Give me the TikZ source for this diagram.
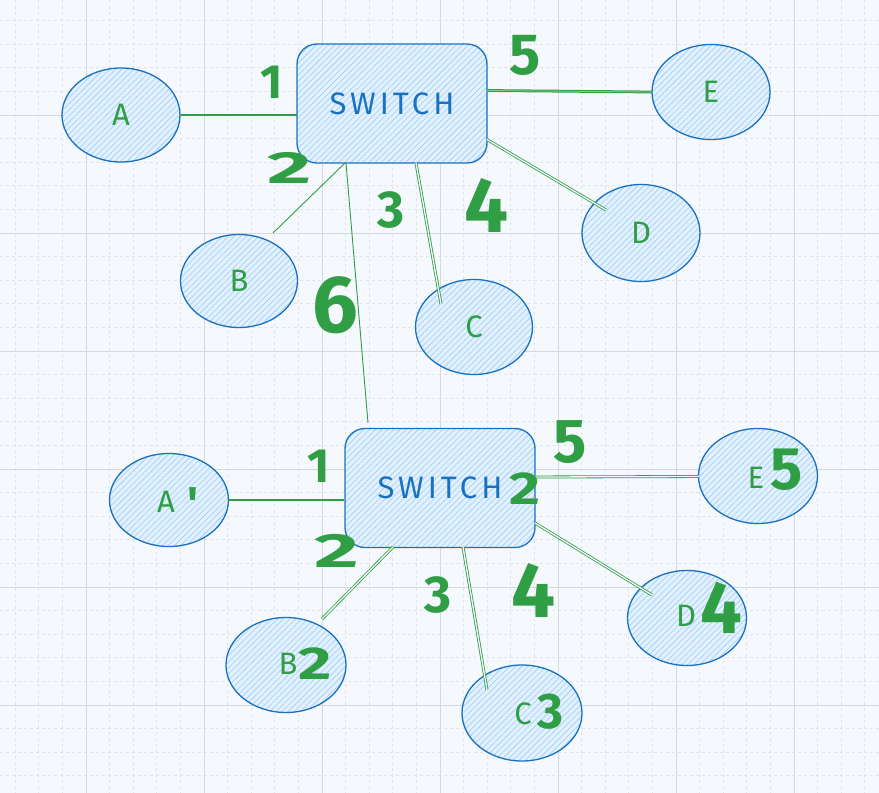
\documentclass[tikz,border=0pt]{standalone}
\usepackage{fontspec}
\usepackage{graphicx}
\setmainfont{Fira Sans}
\usetikzlibrary{patterns.meta,calc,shapes.geometric}
\definecolor{bg}{HTML}{F5F8FC}
\definecolor{gmaj}{HTML}{D5D8DC}
\definecolor{gmin}{HTML}{E1E4E9}
\definecolor{eblue}{HTML}{1971C2}
\definecolor{fblue}{HTML}{E3F0FD}
\definecolor{hblue}{HTML}{A5D3FA}
\definecolor{egreen}{HTML}{2F9E44}
\tikzset{
  hatch/.style={draw=eblue, line width=1.3pt, preaction={fill=fblue},
    pattern={Lines[angle=45,distance=4.3pt,line width=0.75pt]}, pattern color=hblue},
  el/.style={hatch, ellipse, inner sep=0pt},
  swbox/.style={hatch, rectangle, rounded corners=20pt, minimum width=190pt, minimum height=119pt,
    text=eblue, font=\fontsize{31}{31}\selectfont\addfontfeature{LetterSpace=13}},
  link/.style={egreen, line width=1.4pt},
  thinlink/.style={egreen, line width=0.9pt},
  dlink/.style={egreen, line width=0.8pt, double=bg, double distance=1.3pt},
  lbl/.style={text=egreen, inner sep=0pt, font=\fontsize{31}{31}\selectfont},
  num/.style={text=egreen, inner sep=0pt, font=\bfseries\fontsize{#1}{#1}\selectfont},
  minorline/.style={gmin, line width=0.8pt, dash pattern=on 3pt off 3pt},
  majorline/.style={gmaj, line width=1pt}
}
\begin{document}
\begin{tikzpicture}[x=1pt,y=-1pt]
\useasboundingbox (0,0) rectangle (879,793);
\fill[bg] (0,0) rectangle (879,793);
\begin{scope}
\clip (0,0) rectangle (879,793);
\foreach \i in {0,...,38} {
  \pgfmathsetmacro\xx{-32+23.6*\i}
  \draw[minorline] (\xx,0) -- (\xx,793);
}
\foreach \i in {0,...,34} {
  \pgfmathsetmacro\yy{-3+23.6*\i}
  \draw[minorline] (0,\yy) -- (879,\yy);
}
\foreach \k in {-1,...,6} {
  \pgfmathsetmacro\xx{86+118*\k}
  \draw[majorline] (\xx,0) -- (\xx,793);
}
\foreach \k in {-1,...,5} {
  \pgfmathsetmacro\yy{115+118*\k}
  \draw[majorline] (0,\yy) -- (879,\yy);
}
\end{scope}

% top cluster
\node[swbox] (sw1) at (392,103.5) {SWITCH};
\node[el, minimum width=118pt, minimum height=94pt] (A) at (121,115) {};
\node[el, minimum width=118pt, minimum height=95pt] (E) at (711,92) {};
\node[el, minimum width=118pt, minimum height=97pt] (D) at (641,233) {};
\node[el, minimum width=117pt, minimum height=93pt] (B) at (239,281) {};
\node[el, minimum width=117pt, minimum height=95pt] (C) at (474,327) {};

% bottom cluster
\node[swbox] (sw2) at (440,488) {SWITCH};
\node[el, minimum width=119pt, minimum height=93pt] (A2) at (169,500) {};
\node[el, minimum width=119pt, minimum height=95pt] (E5) at (758,476) {};
\node[el, minimum width=119pt, minimum height=95pt] (D4) at (687,618) {};
\node[el, minimum width=120pt, minimum height=95pt] (B2) at (286,665) {};
\node[el, minimum width=120pt, minimum height=96pt] (C3) at (522,713) {};

% connectors top
\draw[link] (A.east) -- (A.east -| sw1.west);
\draw[egreen, line width=1pt, double=egreen!55!bg, double distance=0.8pt] ($(sw1.center)+(95,-13)$) -- (E.west);
\draw[dlink] ($(sw1.center)+(95,36)$) -- ($(D.center)+(-35,-23)$);
\draw[thinlink] ($(sw1.center)+(-47,59.5)$) -- ($(B.center)+(34,-48)$);
\draw[dlink] ($(sw1.center)+(24,59.5)$) -- ($(C.center)+(-33,-23)$);
\draw[thinlink] ($(sw1.center)+(-46,59.5)$) -- ($(sw2.center)+(-72,-65)$);

% connectors bottom
\draw[link] (A2.east) -- (A2.east -| sw2.west);
\draw[dlink] ($(sw2.center)+(95,-11)$) -- ($(E5.west)+(1,0.5)$);
\draw[dlink] ($(sw2.center)+(95,35)$) -- ($(D4.center)+(-35,-23)$);
\draw[dlink] ($(sw2.center)+(-47,59)$) -- ($(B2.center)+(36,-46)$);
\draw[dlink] ($(sw2.center)+(23,59)$) -- ($(C3.center)+(-35,-23)$);

% node letters
\node[lbl] (lA) at (121,115) {A};
\node[lbl] (lE) at (711,92) {E};
\node[lbl] (lD) at (641,233) {D};
\node[lbl] (lB) at (239,281) {B};
\node[lbl] (lC) at (474,327) {C};
\node[lbl] (lA2) at (166,502) {A};
\node[num=46] (qA2) at (193,504) {\textquotesingle};
\node[lbl] (lE5) at (756,478) {E};
\node[num=60] (qE5) at (787,470) {5};
\node[lbl] (lD4) at (686,616) {D};
\node[num=74] (qD4) at (721,608) {4};
\node[lbl] (lB2) at (288,664) {B};
\node[num=46] (qB2) at (315,664) {\scalebox{1.4}[1]{2}};
\node[lbl] (lC3) at (523,714) {C};
\node[num=50] (qC3) at (550,712) {3};
\node[num=46] (q2sw) at (525,489) {\scalebox{1.3}[1]{2}};

% port numbers top
\node[num=48] (n1) at (272,82) {1};
\node[num=45] (n2) at (290,168) {\scalebox{1.9}[1]{2}};
\node[num=52] (n3) at (391,210) {3};
\node[num=78] (n4) at (487,205) {4};
\node[num=58] (n5) at (525,55) {5};
\node[num=81] (n6) at (335,305) {6};

% port numbers bottom
\node[num=48] (m1) at (319,466) {1};
\node[num=48] (m2) at (337,551) {\scalebox{1.8}[1]{2}};
\node[num=52] (m3) at (438,595) {3};
\node[num=78] (m4) at (534,590) {4};
\node[num=62] (m5) at (570,442) {5};
\end{tikzpicture}
\end{document}
